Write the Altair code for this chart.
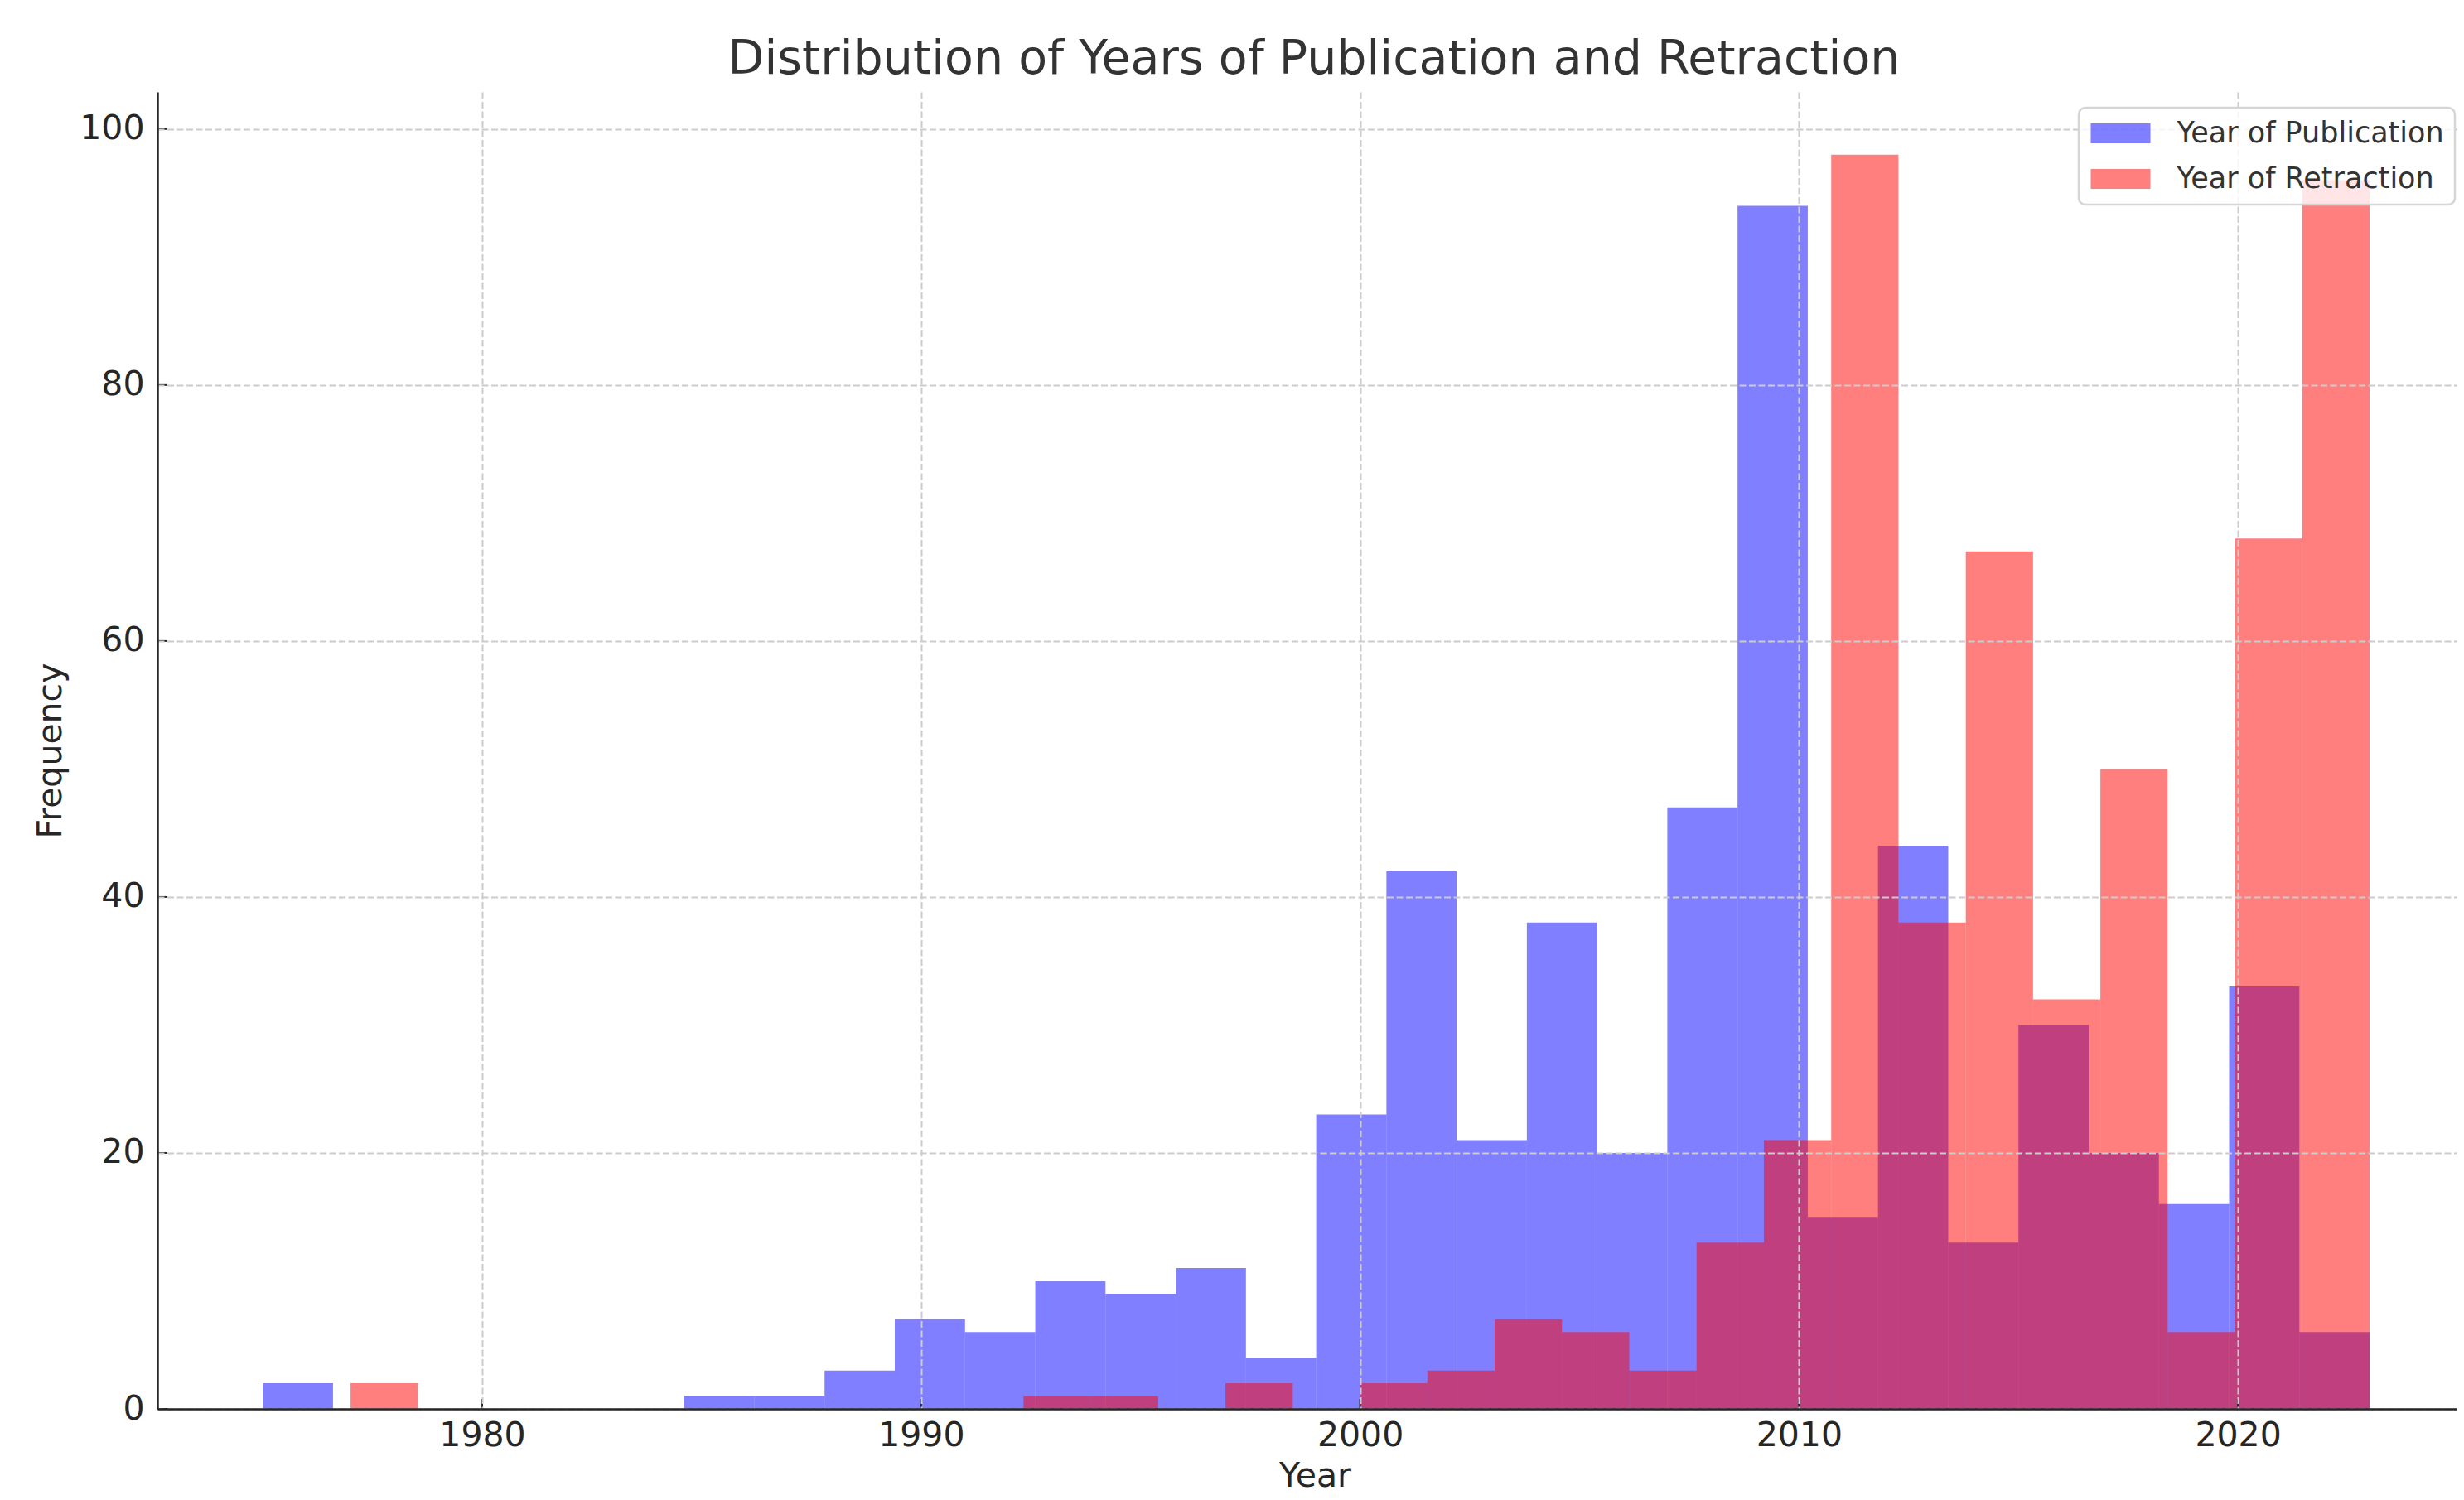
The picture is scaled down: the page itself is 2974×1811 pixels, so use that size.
import altair as alt
import pandas as pd

# Histogram bin ranges (30 bins each) and counts
n_bins = 30
pub_range = [1975.0, 2023.0]
ret_range = [1977.0, 2023.0]
pub_counts = [2, 0, 0, 0, 0, 0, 1, 1, 3, 7, 6, 10, 9, 11, 4,
              23, 42, 21, 38, 20, 47, 94, 15, 44, 13, 30, 20, 16, 33, 6]
ret_counts = [2, 0, 0, 0, 0, 0, 0, 0, 0, 0, 1, 1, 0, 2, 0,
              2, 3, 7, 6, 3, 13, 21, 98, 38, 67, 32, 50, 6, 68, 96]
series_names = ["Year of Publication", "Year of Retraction"]
series_colors = ["blue", "red"]
x_ticks = [1980, 1990, 2000, 2010, 2020]
y_ticks = [0, 20, 40, 60, 80, 100]

rows = []
for name, (lo, hi), counts in zip(series_names, [pub_range, ret_range], [pub_counts, ret_counts]):
    w = (hi - lo) / n_bins
    for i, c in enumerate(counts):
        if c > 0:
            rows.append({"series": name, "start": lo + i * w, "end": lo + (i + 1) * w, "count": c})
df = pd.DataFrame(rows)

FONT = "DejaVu Sans"
INK = "#262626"
W, H = 2776, 1590
x_scale = alt.Scale(domain=[1972.6, 2025.0], nice=False, zero=False)
y_scale = alt.Scale(domain=[0, 102.9], nice=False)

x_axis = alt.Axis(values=x_ticks, format="d", title="Year", zindex=1,
                  labelFontSize=41, labelFont=FONT, labelColor=INK,
                  labelPadding=12, ticks=False, tickSize=0,
                  grid=True, gridDash=[8, 3.5], gridColor="#cccccc", gridWidth=2,
                  domainColor=INK, domainWidth=2.5,
                  titleFont=FONT, titleFontSize=41, titleFontWeight="normal",
                  titleColor=INK, titleX=1397, titleY=93,
                  titleBaseline="alphabetic", titleAnchor="middle", titleAlign="center")
y_axis = alt.Axis(values=y_ticks, title="Frequency", zindex=1,
                  labelFontSize=41, labelFont=FONT, labelColor=INK,
                  labelPadding=16, ticks=False, tickSize=0,
                  grid=True, gridDash=[8, 3.5], gridColor="#cccccc", gridWidth=2,
                  domainColor=INK, domainWidth=2.5,
                  titleFont=FONT, titleFontSize=41, titleFontWeight="normal",
                  titleColor=INK, titleAngle=270, titleX=-117, titleY=H / 2,
                  titleBaseline="alphabetic", titleAlign="center")

hist = alt.Chart(df).mark_rect(opacity=0.5, clip=True).encode(
    x=alt.X("start:Q", scale=x_scale, axis=x_axis),
    x2="end:Q",
    y=alt.Y("count:Q", stack=None, scale=y_scale, axis=y_axis),
    y2=alt.datum(0),
    color=alt.Color("series:N",
                    scale=alt.Scale(domain=series_names, range=series_colors),
                    legend=alt.Legend(title=None, orient="none", legendX=2319, legendY=19,
                                      labelFont=FONT, labelFontSize=35, labelColor="#333333",
                                      labelLimit=0, zindex=2,
                                      symbolType="M-2,-0.66H2V0.66H-2Z", symbolSize=1296,
                                      symbolOpacity=0.5, symbolStrokeWidth=0,
                                      symbolOffset=19.5,
                                      labelOffset=50, rowPadding=19, padding=13,
                                      fillColor="rgba(255,255,255,0.8)", strokeColor="#d5d5d5",
                                      cornerRadius=8)),
)

# inward tick marks at the axis tick values (matplotlib style)
xt = alt.Chart(pd.DataFrame({"start": x_ticks})).mark_rule(color=INK, strokeWidth=2).encode(
    x=alt.X("start:Q", scale=x_scale, title="Year"),
    y=alt.value(H), y2=alt.value(H - 12),
)
yt = alt.Chart(pd.DataFrame({"count": y_ticks})).mark_rule(color=INK, strokeWidth=2).encode(
    y=alt.Y("count:Q", scale=y_scale, title="Frequency"),
    x=alt.value(0), x2=alt.value(12),
)

chart = alt.layer(hist, xt, yt).properties(
    width=W, height=H,
    title=alt.TitleParams("Distribution of Years of Publication and Retraction",
                          font=FONT, fontSize=57, fontWeight="normal", color="#333333",
                          anchor="middle", frame="group", offset=19, baseline="alphabetic",
                          dx=8, dy=54),
    autosize=alt.AutoSizeParams(type="none"),
    padding={"left": 182, "top": 103, "right": 0, "bottom": 102},
).configure_view(stroke=None).configure_legend(strokeWidth=2.5)

chart.save("out.html", embed_options={"renderer": "svg", "actions": False})
